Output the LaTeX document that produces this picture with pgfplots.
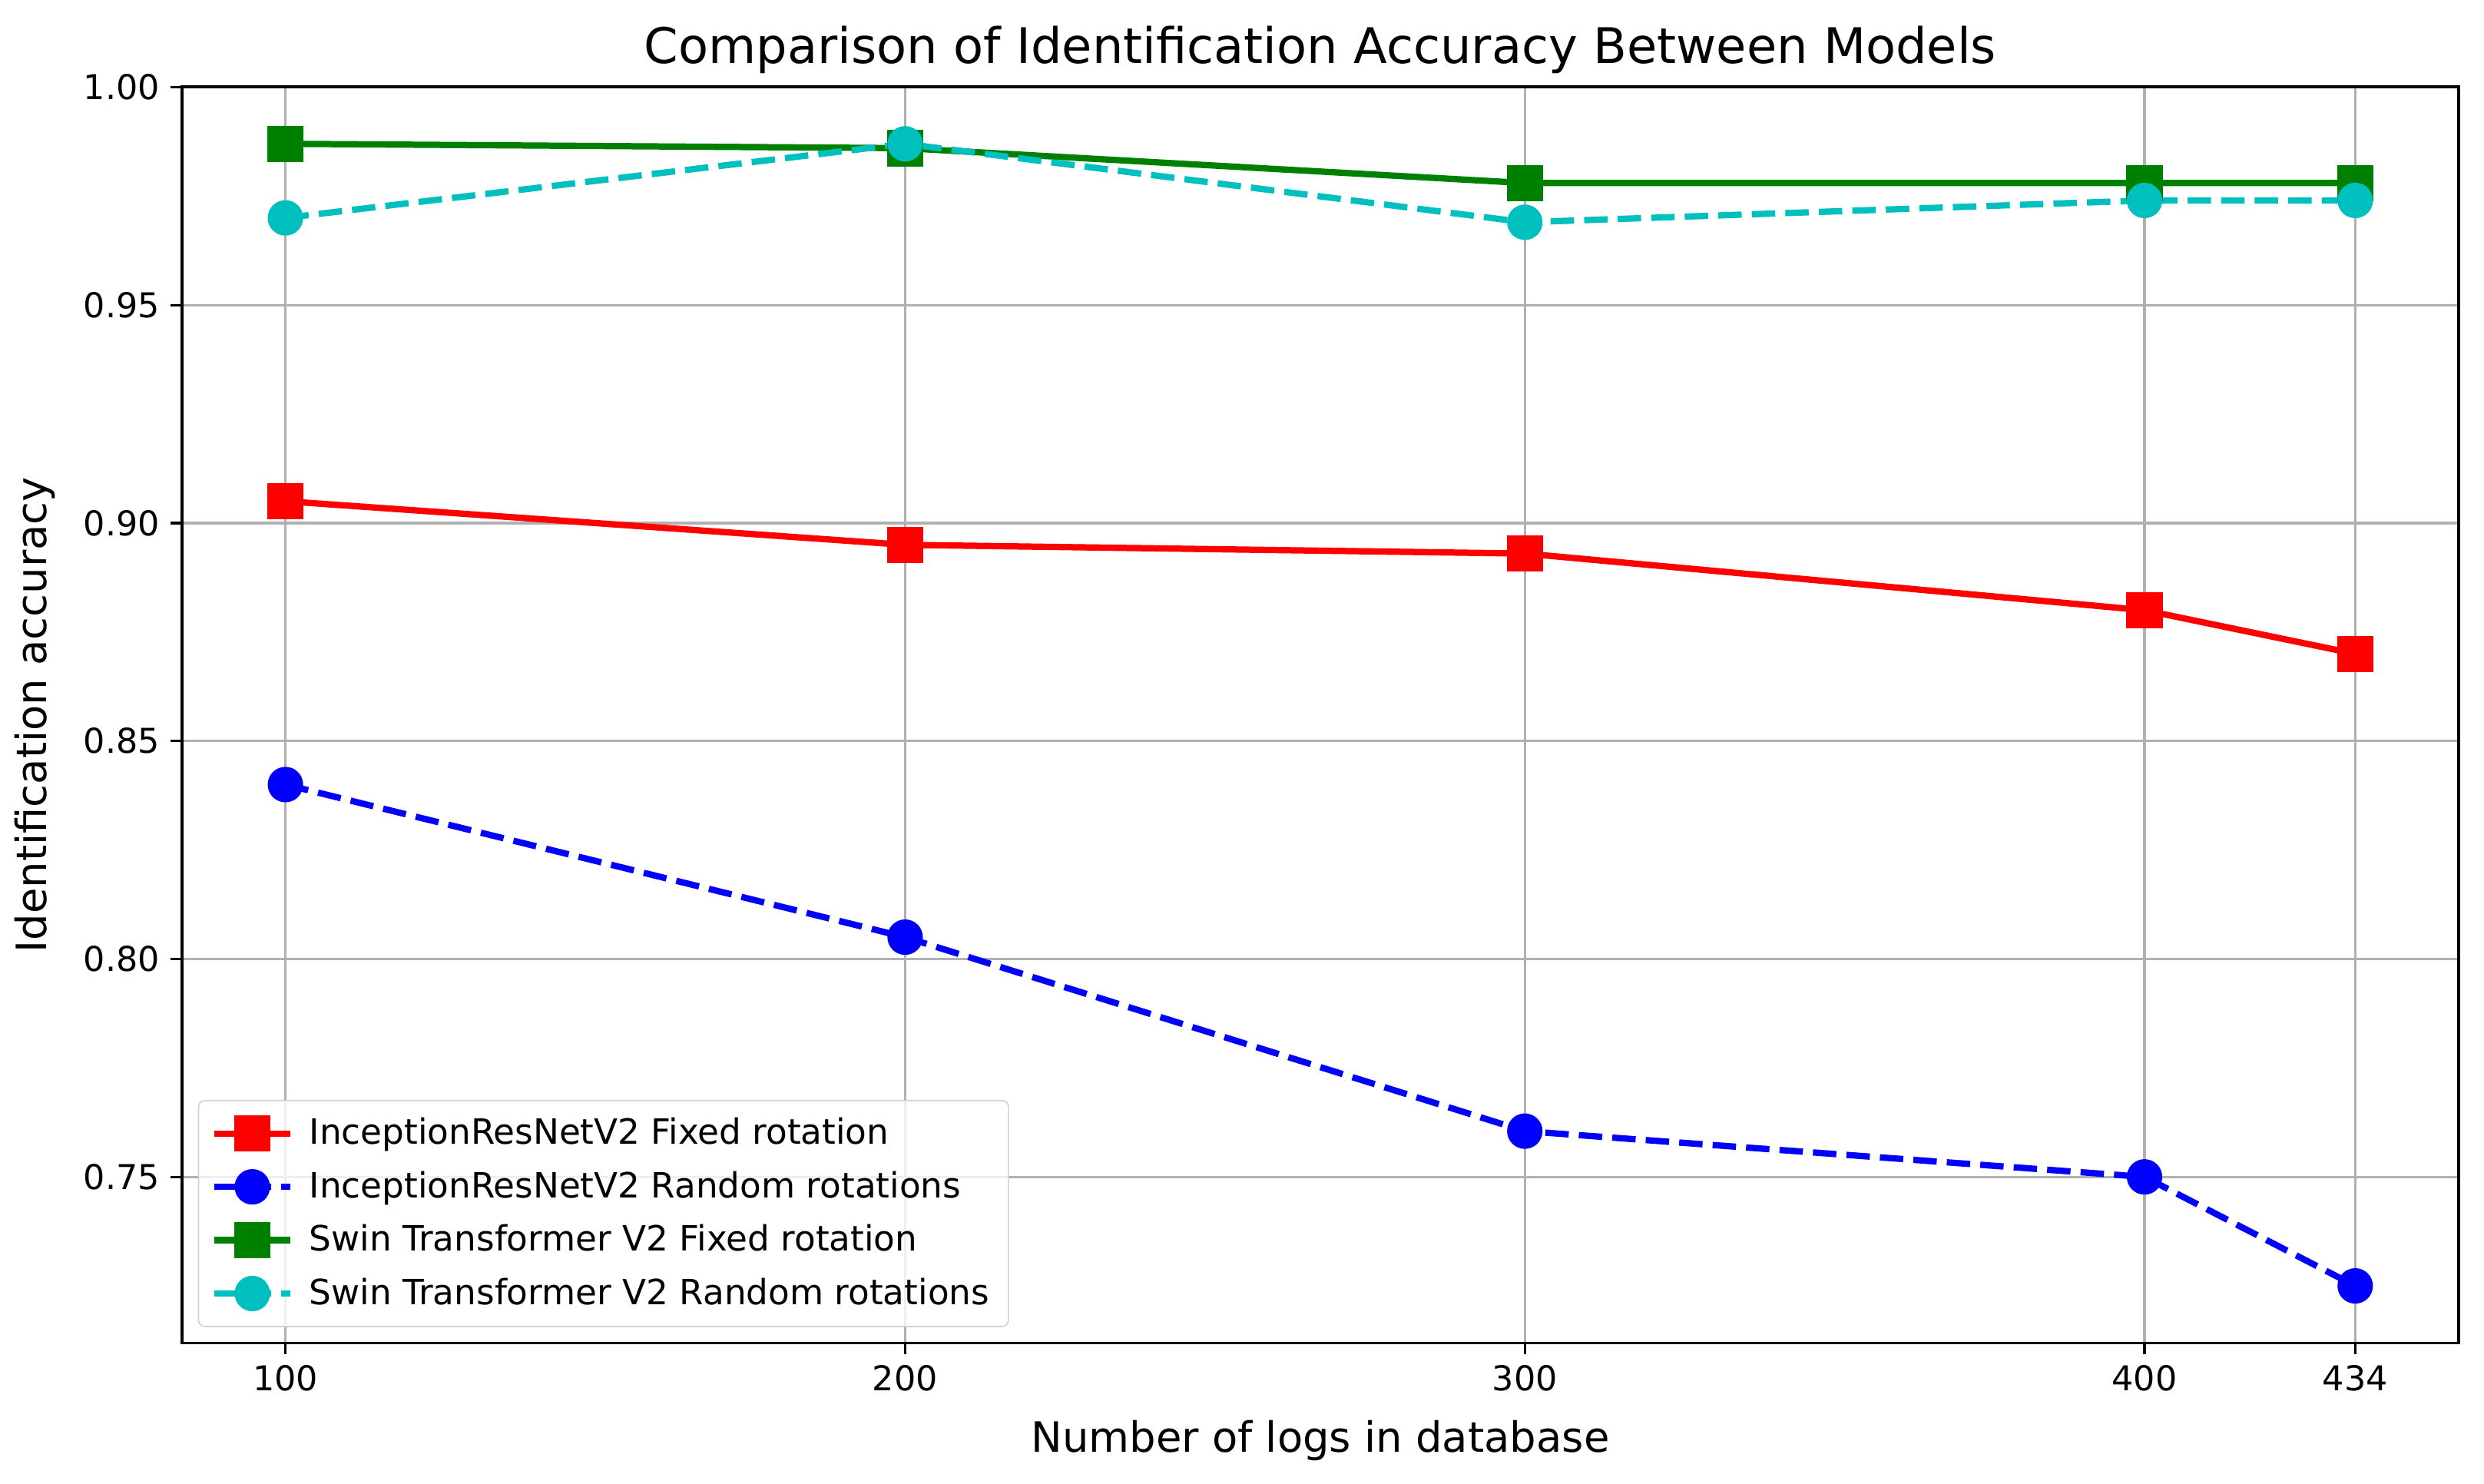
\documentclass[border=0pt]{standalone}
\usepackage{fontspec}
\setmainfont{DejaVu Sans}
\usepackage{pgfplots}
\pgfplotsset{compat=1.18}

\definecolor{gridgray}{HTML}{B0B0B0}
\definecolor{mplgreen}{rgb}{0,0.5,0}
\definecolor{mplcyan}{rgb}{0,0.75,0.75}

\begin{document}
\begin{tikzpicture}
\useasboundingbox (-57.5pt,-44.4pt) rectangle (727.5pt,424.4pt);
\begin{axis}[
    scale only axis,
    width=719.5pt, height=397pt,
    xmin=83.3, xmax=450.7,
    ymin=0.7119, ymax=1.0001,
    xtick={100,200,300,400,434},
    ytick={0.75,0.80,0.85,0.90,0.95,1.00},
    y tick label style={/pgf/number format/.cd, fixed, fixed zerofill, precision=2},
    /pgf/number format/assume math mode=true,
    tick label style={font=\fontsize{10.8}{13}\selectfont},
    label style={font=\fontsize{13.2}{16}\selectfont},
    title style={font=\fontsize{15.5}{18}\selectfont, yshift=-5.5pt},
    title={Comparison of Identification Accuracy Between Models},
    xlabel={Number of logs in database},
    xlabel style={yshift=-2.5pt},
    ylabel={Identification accuracy},
    ylabel style={yshift=2pt},
    grid=major,
    grid style={color=gridgray, line width=0.8pt},
    axis line style={line width=0.8pt},
    tick align=outside, tick pos=left,
    major tick length=3.5pt,
    tick style={black, line width=0.8pt},
    legend cell align=left,
    legend style={
        at={(0.007,0.0126)}, anchor=south west,
        draw=gray!35, rounded corners=2pt,
        fill=white, fill opacity=0.8, text opacity=1,
        font=\fontsize{11}{13}\selectfont,
        row sep=3pt, inner xsep=4pt, inner ysep=3.5pt,
    },
    legend image code/.code={
        \draw[#1, opacity=1] (0pt,0pt) -- (24pt,0pt);
        \draw[#1, solid, opacity=1] plot coordinates {(12pt,0pt)};
        \path (27pt,0pt);
    },
]
\addplot[red, line width=2pt, mark=square*, mark size=4.75pt, mark options={solid}]
    coordinates {(100,0.905) (200,0.895) (300,0.893) (400,0.880) (434,0.870)};
\addlegendentry{InceptionResNetV2 Fixed rotation}
\addplot[blue, line width=2pt, dash pattern=on 7.4pt off 3.2pt, mark=*, mark size=4.6pt, mark options={solid}]
    coordinates {(100,0.840) (200,0.805) (300,0.7605) (400,0.750) (434,0.725)};
\addlegendentry{InceptionResNetV2 Random rotations}
\addplot[mplgreen, line width=2pt, mark=square*, mark size=4.75pt, mark options={solid}]
    coordinates {(100,0.987) (200,0.986) (300,0.978) (400,0.978) (434,0.978)};
\addlegendentry{Swin Transformer V2 Fixed rotation}
\addplot[mplcyan, line width=2pt, dash pattern=on 7.4pt off 3.2pt, mark=*, mark size=4.6pt, mark options={solid}]
    coordinates {(100,0.970) (200,0.987) (300,0.969) (400,0.974) (434,0.974)};
\addlegendentry{Swin Transformer V2 Random rotations}
\end{axis}
\end{tikzpicture}
\end{document}
